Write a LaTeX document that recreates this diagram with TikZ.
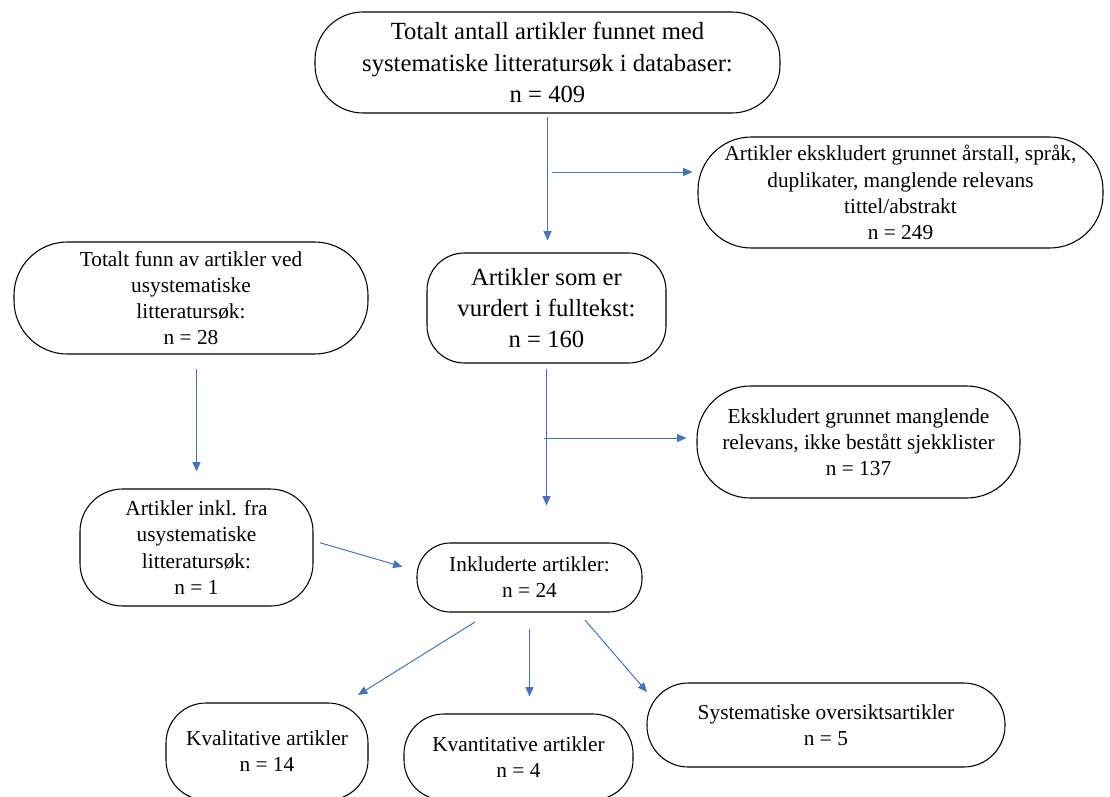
\documentclass[tikz,border=0pt]{standalone}
\usepackage{fontspec}
\setmainfont{Liberation Serif}
\usetikzlibrary{arrows, arrows.meta}
\definecolor{flowblue}{HTML}{4472C4}

\begin{document}
\begin{tikzpicture}[x=0.75pt, y=-0.75pt,
    flowbox/.style={draw=black, line width=0.8pt, rectangle, align=center,
      font=\fontsize{16}{19.6}\selectfont},
    bigbox/.style={flowbox, font=\fontsize{18.5}{23.3}\selectfont},
    flowarrow/.style={draw=flowblue, line width=0.75pt, -{Triangle[length=7pt, width=6pt]}}]
      \clip (0,0) rectangle (1110,796);

      % Systematic search
      \node[bigbox, minimum width=348.75pt, minimum height=75.75pt, rounded corners=36pt] (total) at (547.5,62.5)
        {Totalt antall artikler funnet med\\ systematiske litteratursøk i databaser:\\ n = 409};
      \node[flowbox, minimum width=303.75pt, minimum height=83.25pt, rounded corners=40pt] (excla) at (900.5,192.5)
        {Artikler ekskludert grunnet årstall, språk,\\ duplikater, manglende relevans\\ tittel/abstrakt\\ n = 249};
      \node[bigbox, minimum width=179.25pt, minimum height=82.5pt, rounded corners=28pt] (full) at (546.5,308)
        {Artikler som er\\ vurdert i fulltekst:\\ n = 160};
      \node[flowbox, minimum width=242.25pt, minimum height=84pt, rounded corners=40pt] (exclb) at (858.5,442)
        {Ekskludert grunnet manglende\\ relevans, ikke bestått sjekklister\\ n = 137};

      % Unsystematic search
      \node[flowbox, minimum width=265.5pt, minimum height=84pt, rounded corners=40pt] (usys) at (191,298)
        {Totalt funn av artikler ved\\ usystematiske\\ litteratursøk:\\ n = 28};
      \node[flowbox, minimum width=174.75pt, minimum height=87.75pt, rounded corners=32pt] (usysinc) at (196.5,547.5)
        {Artikler inkl. fra\\ usystematiske\\ litteratursøk:\\ n = 1};

      % Included
      \node[flowbox, minimum width=168.75pt, minimum height=51.75pt, rounded corners=25pt] (incl) at (529.5,577.5)
        {Inkluderte artikler:\\ n = 24};
      \node[flowbox, minimum width=151.5pt, minimum height=72.75pt, rounded corners=30pt] (kval) at (267,751.5)
        {Kvalitative artikler\\ n = 14};
      \node[flowbox, minimum width=171.75pt, minimum height=64.5pt, rounded corners=30pt] (kvan) at (518.5,757)
        {Kvantitative artikler\\ n = 4};
      \node[flowbox, minimum width=268.5pt, minimum height=63pt, rounded corners=31pt] (syst) at (826,725)
        {Systematiske oversiktsartikler\\ n = 5};

      % Connectors
      \coordinate (branchA) at (552,172);
      \coordinate (branchB) at (544,438);
      \coordinate (kvalfrom) at (475,622);
      \coordinate (kvalto) at (358,695);
      \coordinate (systfrom) at (585,620);
      \coordinate (systto) at (647,692);

      \draw[flowarrow, shorten <=2.25pt, shorten >=9pt] (total.south) -- (total.south |- full.north);
      \draw[flowarrow, shorten >=3.75pt] (branchA) -- (branchA -| excla.west);
      \draw[flowarrow, shorten <=3.75pt, shorten >=27.75pt] (full.south) -- (full.south |- incl.north);
      \draw[flowarrow, shorten >=7.5pt] (branchB) -- (branchB -| exclb.west);
      \draw[flowarrow, shorten <=10.5pt, shorten >=12.75pt] (usys.south -| usysinc.north) -- (usysinc.north);
      \draw[flowarrow, shorten <=5pt, shorten >=11pt] ([yshift=5pt]usysinc.east) -- ([yshift=5pt]incl.west);
      \draw[flowarrow] (kvalfrom) -- (kvalto);
      \draw[flowarrow, shorten <=12pt, shorten >=12.75pt] (incl.south) -- (incl.south |- kvan.north);
      \draw[flowarrow] (systfrom) -- (systto);
\end{tikzpicture}
\end{document}
